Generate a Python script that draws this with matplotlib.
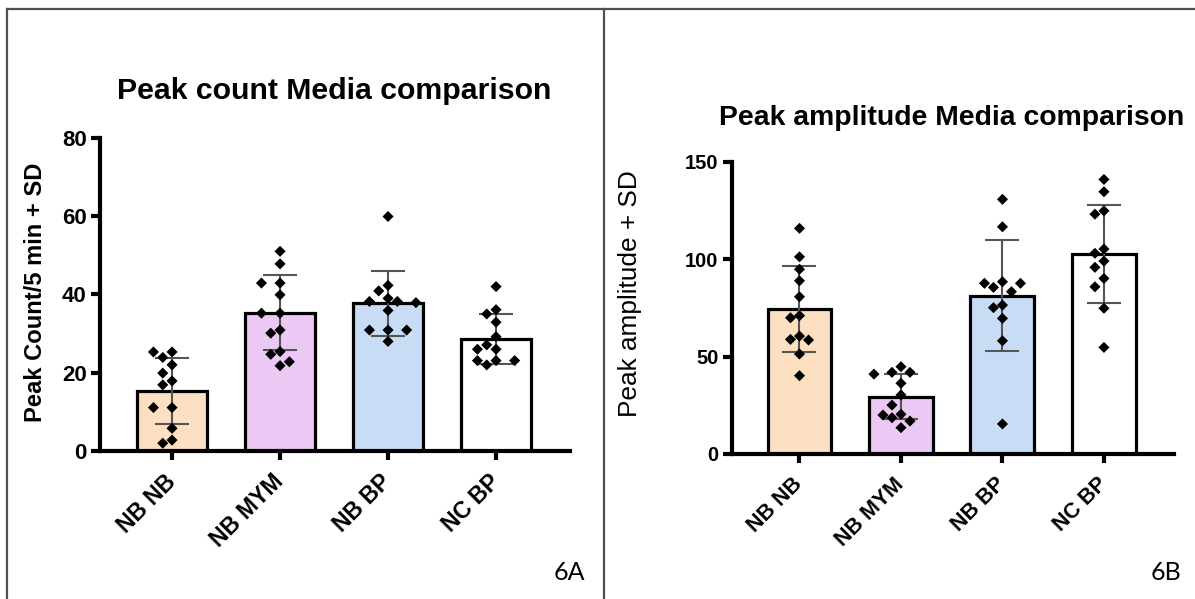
import numpy as np
import matplotlib
matplotlib.use("Agg")
import matplotlib.pyplot as plt
from matplotlib.lines import Line2D

# ---- data ----
groups = ["NB NB", "NB MYM", "NB BP", "NC BP"]
bar_colors = ["#FDDFC1", "#ECC9F4", "#C8DDF5", "#FFFFFF"]

count_means = [15.3, 35.3, 37.7, 28.7]
count_sd = [8.5, 9.6, 8.3, 6.4]
count_nb_nb = [25.3, 25.3, 23.9, 22.0, 19.9, 17.9, 16.9, 11.1, 11.1, 5.8, 2.8, 2.0]
count_nb_mym = [51.0, 47.8, 42.9, 42.9, 39.9, 35.2, 35.2, 30.9, 30.1, 25.4, 24.7, 22.8, 21.8]
count_nb_bp = [59.9, 42.3, 40.9, 39.0, 38.2, 38.2, 37.9, 35.9, 30.9, 30.9, 30.9, 28.0]
count_nc_bp = [42.0, 36.1, 35.0, 32.9, 29.2, 27.1, 26.0, 26.0, 23.1, 23.1, 23.1, 22.0]

amp_means = [74.3, 29.4, 81.1, 102.7]
amp_sd = [22.2, 11.5, 28.5, 25.2]
amp_nb_nb = [115.8, 101.2, 94.8, 88.9, 80.7, 71.0, 69.9, 60.5, 58.8, 58.5, 51.3, 40.2]
amp_nb_mym = [44.8, 41.9, 41.9, 41.0, 36.3, 30.3, 25.1, 20.4, 20.0, 18.6, 16.9, 13.5]
amp_nb_bp = [130.7, 116.6, 88.4, 87.6, 87.6, 85.5, 83.3, 76.4, 75.1, 69.6, 58.1, 15.4]
amp_nc_bp = [140.9, 134.6, 124.8, 123.1, 105.2, 103.0, 99.0, 95.8, 90.1, 85.8, 74.8, 54.7]

count_points = [count_nb_nb, count_nb_mym, count_nb_bp, count_nc_bp]
amp_points = [amp_nb_nb, amp_nb_mym, amp_nb_bp, amp_nc_bp]

BOLD = "Liberation Sans"
plt.rcParams["font.family"] = [BOLD, "DejaVu Sans"]

W, H, DPI = 1195, 599, 100
fig = plt.figure(figsize=(W / DPI, H / DPI), dpi=DPI)
fig.patch.set_facecolor("white")


def swarm(values, px_per_unit, slot_px, sep_px=11.0):
    """Column-scatter layout: spread points sideways so diamonds don't overlap."""
    values = np.asarray(values, float)
    order = np.argsort(-values)
    placed = []
    slots = np.zeros(len(values))
    candidates = [0, -1, 1, -2, 2, -3, 3, -4, 4, -5, 5]
    for i in order:
        y = values[i] * px_per_unit
        chosen = candidates[-1]
        for s in candidates:
            ok = True
            for ps, py in placed:
                if abs(s - ps) * slot_px + abs(y - py) < sep_px:
                    ok = False
                    break
            if ok:
                chosen = s
                break
        placed.append((chosen, y))
        slots[i] = chosen
    return slots


def panel(ax, means, sds, points, ymax, yticks, xlim, width, slot_px,
          tick_fs, xtick_fs):
    x = np.arange(len(groups))
    ax.set_xlim(*xlim)
    ax.set_ylim(0, ymax)
    ax.bar(x, means, width=width, color=bar_colors, edgecolor="black",
           linewidth=2.3, zorder=2)
    ax.errorbar(x, means, yerr=sds, fmt="none", ecolor="#555555",
                elinewidth=1.5, capsize=12.5, capthick=1.5, zorder=3)
    # pixel scales for the swarm layout
    bbox = ax.get_position()
    ax_w_px = bbox.width * W
    ax_h_px = bbox.height * H
    px_per_y = ax_h_px / ymax
    px_per_x = ax_w_px / (xlim[1] - xlim[0])
    for xi, pts in zip(x, points):
        slots = swarm(pts, px_per_y, slot_px)
        ax.scatter(xi + slots * slot_px / px_per_x, pts, marker="D", s=32,
                   color="black", edgecolor="none", zorder=4)
    for side in ("top", "right"):
        ax.spines[side].set_visible(False)
    for side in ("left", "bottom"):
        ax.spines[side].set_linewidth(3.0)
    ax.set_yticks(yticks)
    ax.tick_params(axis="both", width=3.0, length=6.5, color="black")
    ax.tick_params(axis="y", pad=3, labelsize=tick_fs)
    ax.set_xticks(x)
    ax.set_xticklabels(groups, rotation=45, ha="right", va="center",
                       rotation_mode="anchor", fontsize=xtick_fs,
                       fontweight="bold")
    ax.tick_params(axis="x", pad=13)
    for lab in ax.get_yticklabels():
        lab.set_fontweight("bold")


axL = fig.add_axes([0.0837, 0.247, 0.3933, 0.523])
panel(axL, count_means, count_sd, count_points, 80, [0, 20, 40, 60, 80],
      (-0.667, 3.685), 0.648, 9.3, 16, 16.5)

axR = fig.add_axes([0.6123, 0.2421, 0.3701, 0.4879])
panel(axR, amp_means, amp_sd, amp_points, 150, [0, 50, 100, 150],
      (-0.668, 3.69), 0.63, 9.0, 14.5, 15.5)

# titles and axis labels
fig.text(334.5 / W, 1 - 91 / H, "Peak count Media comparison", ha="center",
         va="center", fontsize=21.8, fontweight="bold")
fig.text(951.5 / W, 1 - 118 / H, "Peak amplitude Media comparison",
         ha="center", va="center", fontsize=20.4, fontweight="bold")
fig.text(36 / W, 1 - 292 / H, "Peak Count/5 min + SD", ha="center",
         va="center", rotation=90, fontsize=17.1, fontweight="bold")
fig.text(630 / W, 1 - 294 / H, "Peak amplitude + SD", ha="center",
         va="center", rotation=90, fontsize=18.9)

# panel tags
fig.text(569.5 / W, 1 - 573 / H, "6A", ha="center", va="center",
         fontsize=18, family="Lato")
fig.text(1166 / W, 1 - 573 / H, "6B", ha="center", va="center",
         fontsize=18, family="Lato")

# frame lines around the two panels
frame_kw = dict(color="#505050", linewidth=1.6, transform=fig.transFigure)
fig.add_artist(Line2D([7 / W, 1.0], [1 - 8.7 / H, 1 - 8.7 / H], **frame_kw))
fig.add_artist(Line2D([7 / W, 7 / W], [0, 1 - 8.7 / H], **frame_kw))
fig.add_artist(Line2D([604 / W, 604 / W], [0, 1 - 8.7 / H], **frame_kw))

fig.savefig("out.png", dpi=DPI, facecolor="white")
